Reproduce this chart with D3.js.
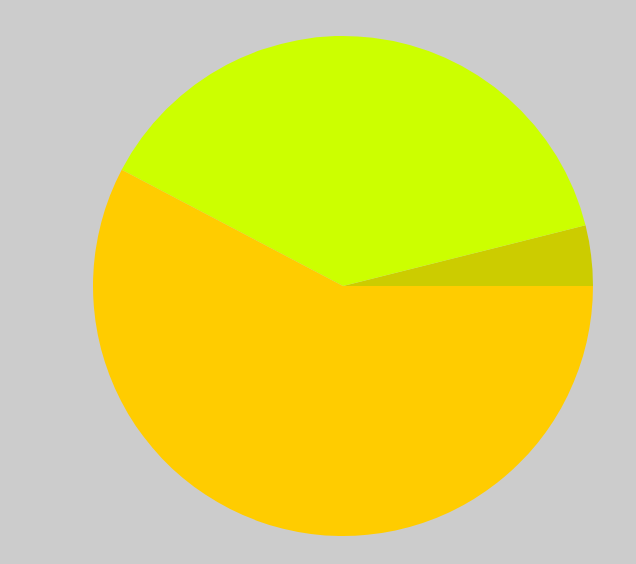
<!DOCTYPE html>
<html>
<head>
<meta charset="utf-8">
<script src="https://cdn.jsdelivr.net/npm/d3@7"></script>
<style>
html, body { margin: 0; padding: 0; background: #cccccc; }
svg { display: block; }
</style>
</head>
<body>
<svg id="chart" width="636" height="564"></svg>
<script>
const categories = ["A", "B", "C"];
const values = [3.9, 38.4, 57.7];
const colors = ["#cccc00", "#ccff00", "#ffcc00"];

const width = 636, height = 564;
const cx = 343, cy = 286, radius = 250;

const svg = d3.select("#chart");
svg.append("rect").attr("width", width).attr("height", height).attr("fill", "#cccccc");

const data = categories.map((c, i) => ({ cat: c, value: values[i], color: colors[i] }));

const pie = d3.pie()
  .value(d => d.value)
  .sort(null)
  .startAngle(Math.PI / 2)
  .endAngle(Math.PI / 2 - 2 * Math.PI);

const arc = d3.arc().innerRadius(0).outerRadius(radius);

svg.append("g")
  .attr("transform", `translate(${cx},${cy})`)
  .selectAll("path")
  .data(pie(data))
  .join("path")
  .attr("d", arc)
  .attr("fill", d => d.data.color);
</script>
</body>
</html>
